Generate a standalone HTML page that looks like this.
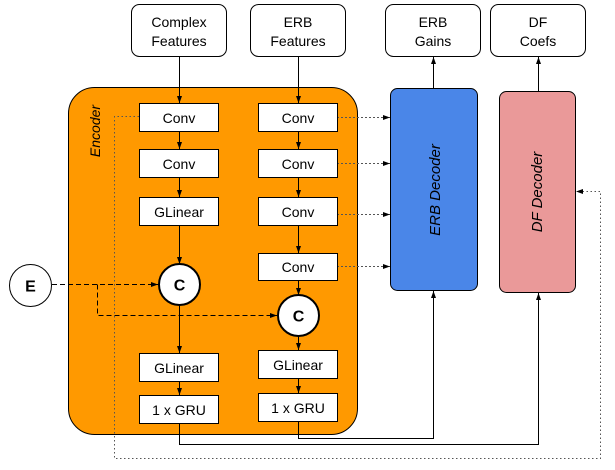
<!DOCTYPE html>
<html><head><meta charset="utf-8"><style>
html,body{margin:0;padding:0;background:#fff;}
svg{display:block;}
text{font-family:"Liberation Sans",Arial,sans-serif;}
</style></head><body>
<svg width="615" height="470" viewBox="0 0 615 470" xmlns="http://www.w3.org/2000/svg">
<defs>
<marker id="a" markerWidth="8" markerHeight="8" refX="7" refY="4" orient="auto" markerUnits="userSpaceOnUse">
<path d="M0,1.5 L7,4 L0,6.5 Z" fill="#000"/></marker>
</defs>
<!-- top boxes -->
<g fill="#fff" stroke="#000" stroke-width="1">
<rect x="131.5" y="4.5" width="95" height="52" rx="8"/>
<rect x="250.5" y="4.5" width="95" height="52" rx="8"/>
<rect x="385.5" y="4.5" width="95" height="52" rx="8"/>
<rect x="490.5" y="4.5" width="95" height="52" rx="8"/>
</g>
<g font-size="14" text-anchor="middle" fill="#000">
<text x="179" y="27">Complex</text><text x="179" y="46">Features</text>
<text x="298" y="27">ERB</text><text x="298" y="46">Features</text>
<text x="433" y="27">ERB</text><text x="433" y="46">Gains</text>
<text x="538" y="27">DF</text><text x="538" y="46">Coefs</text>
</g>
<!-- encoder -->
<rect x="68.5" y="87.5" width="289" height="347" rx="26" fill="#ff9900" stroke="#000"/>
<text transform="translate(100,131) rotate(-90)" font-size="14" font-style="italic" text-anchor="middle">Encoder</text>
<!-- decoders -->
<rect x="390.5" y="88.5" width="87" height="202" rx="7" fill="#4a86e8" stroke="#000"/>
<rect x="499.5" y="91.5" width="76" height="201" rx="7" fill="#ea9999" stroke="#000"/>
<text transform="translate(440,190) rotate(-90)" font-size="15" font-style="italic" text-anchor="middle">ERB Decoder</text>
<text transform="translate(542,192) rotate(-90)" font-size="15" font-style="italic" text-anchor="middle">DF Decoder</text>
<!-- solid arrows -->
<g stroke="#000" stroke-width="1" fill="none" marker-end="url(#a)">
<line x1="179.5" y1="57" x2="179.5" y2="103"/>
<line x1="298.5" y1="57" x2="298.5" y2="103"/>
<line x1="433.5" y1="88" x2="433.5" y2="57"/>
<line x1="538.5" y1="91" x2="538.5" y2="57"/>
<line x1="179.5" y1="131" x2="179.5" y2="149"/>
<line x1="179.5" y1="177" x2="179.5" y2="197"/>
<line x1="179.5" y1="225" x2="179.5" y2="264"/>
<line x1="179.5" y1="305" x2="179.5" y2="353"/>
<line x1="179.5" y1="381" x2="179.5" y2="395"/>
<line x1="298.5" y1="131" x2="298.5" y2="149"/>
<line x1="298.5" y1="177" x2="298.5" y2="197"/>
<line x1="298.5" y1="225" x2="298.5" y2="253"/>
<line x1="298.5" y1="280" x2="298.5" y2="295"/>
<line x1="298.5" y1="336" x2="298.5" y2="350"/>
<line x1="298.5" y1="378" x2="298.5" y2="393"/>
<polyline points="298.5,421 298.5,438.5 433.5,438.5 433.5,291"/>
<polyline points="179.5,423 179.5,444.5 538.5,444.5 538.5,293"/>
</g>
<!-- dotted arrows to ERB decoder -->
<g stroke="#555" stroke-width="1" stroke-dasharray="2,2" fill="none" marker-end="url(#a)">
<line x1="337" y1="117.5" x2="390" y2="117.5"/>
<line x1="337" y1="163.5" x2="390" y2="163.5"/>
<line x1="337" y1="214.5" x2="390" y2="214.5"/>
<line x1="337" y1="266.5" x2="390" y2="266.5"/>
<polyline points="139,116.5 114.5,116.5 114.5,458.5 600.5,458.5 600.5,191.5 576,191.5" stroke-dasharray="1.5,2.5"/>
</g>
<!-- dashed E lines -->
<g stroke="#000" stroke-width="1" stroke-dasharray="5,3" fill="none" marker-end="url(#a)">
<line x1="52" y1="284.5" x2="158" y2="284.5"/>
<polyline points="97.5,284.5 97.5,315.5 277,315.5"/>
</g>
<!-- boxes -->
<g fill="#fff" stroke="#000" stroke-width="1">
<rect x="139.5" y="103.5" width="79" height="28"/>
<rect x="139.5" y="149.5" width="79" height="28"/>
<rect x="139.5" y="197.5" width="79" height="28"/>
<rect x="139.5" y="353.5" width="79" height="28"/>
<rect x="139.5" y="395.5" width="79" height="28"/>
<rect x="258.5" y="103.5" width="79" height="28"/>
<rect x="258.5" y="149.5" width="79" height="28"/>
<rect x="258.5" y="197.5" width="79" height="28"/>
<rect x="258.5" y="253.5" width="79" height="27"/>
<rect x="258.5" y="350.5" width="79" height="28"/>
<rect x="258.5" y="393.5" width="79" height="28"/>
</g>
<g font-size="14" text-anchor="middle">
<text x="179" y="123">Conv</text>
<text x="179" y="169">Conv</text>
<text x="179" y="217">GLinear</text>
<text x="179" y="373">GLinear</text>
<text x="179" y="415">1 x GRU</text>
<text x="298" y="123">Conv</text>
<text x="298" y="169">Conv</text>
<text x="298" y="217">Conv</text>
<text x="298" y="272">Conv</text>
<text x="298" y="370">GLinear</text>
<text x="298" y="413">1 x GRU</text>
</g>
<!-- circles -->
<circle cx="179.5" cy="284.5" r="20.5" fill="#fff" stroke="#000" stroke-width="2"/>
<circle cx="298.5" cy="315.5" r="20.5" fill="#fff" stroke="#000" stroke-width="2"/>
<circle cx="30.5" cy="285.5" r="21" fill="#fff" stroke="#000" stroke-width="1"/>
<g font-size="16" font-weight="bold" text-anchor="middle">
<text x="179.5" y="290.5">C</text>
<text x="298.5" y="321.5">C</text>
<text x="30.5" y="291.5">E</text>
</g>
</svg>
</body></html>
